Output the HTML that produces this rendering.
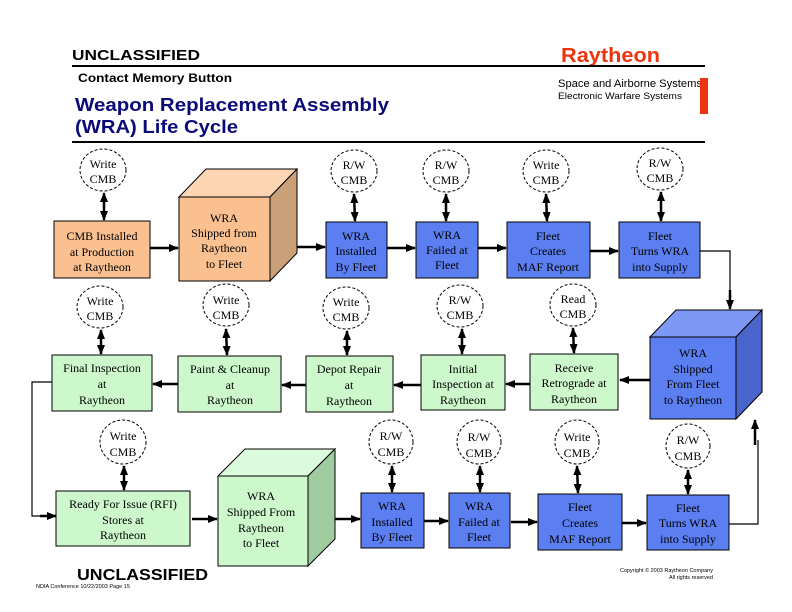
<!DOCTYPE html>
<html><head><meta charset="utf-8"><style>
body{margin:0;background:#fff;}
svg{display:block;}
.t{font-family:"Liberation Serif",serif;font-size:12px;fill:#000;text-anchor:middle;}
.c{fill:#fff;stroke:#000;stroke-width:1;stroke-dasharray:3,2;}
.a{stroke:#000;stroke-width:2.5;fill:none;}
.l{stroke:#000;stroke-width:1.2;fill:none;}
.bx{stroke:#000;stroke-width:1;}
</style></head><body>
<svg width="792" height="612" viewBox="0 0 792 612" xmlns="http://www.w3.org/2000/svg">
<defs>
<marker id="ah" markerUnits="userSpaceOnUse" markerWidth="10" markerHeight="10" refX="9" refY="5" orient="auto-start-reverse"><path d="M0,1 L10,5 L0,9 Z" fill="#000"/></marker>
</defs>
<!-- header -->
<text x="72" y="60" font-family="Liberation Sans,sans-serif" font-weight="bold" font-size="15" textLength="128" lengthAdjust="spacingAndGlyphs">UNCLASSIFIED</text>
<text x="561" y="62" font-family="Liberation Sans,sans-serif" font-weight="bold" font-size="20" fill="#ee3311" textLength="99" lengthAdjust="spacingAndGlyphs">Raytheon</text>
<line x1="72" y1="66" x2="705" y2="66" stroke="#000" stroke-width="2"/>
<text x="78" y="82" font-family="Liberation Sans,sans-serif" font-weight="bold" font-size="12" textLength="154" lengthAdjust="spacingAndGlyphs">Contact  Memory Button</text>
<text x="558" y="87" font-family="Liberation Sans,sans-serif" font-size="11" textLength="144" lengthAdjust="spacingAndGlyphs">Space and Airborne Systems</text>
<text x="558" y="99" font-family="Liberation Sans,sans-serif" font-size="9" textLength="124" lengthAdjust="spacingAndGlyphs">Electronic Warfare Systems</text>
<rect x="700" y="78" width="8" height="36" fill="#ee3311"/>
<text x="75" y="111" font-family="Liberation Sans,sans-serif" font-weight="bold" font-size="18" fill="#0a0a7a" textLength="314" lengthAdjust="spacingAndGlyphs">Weapon Replacement Assembly</text>
<text x="75" y="133" font-family="Liberation Sans,sans-serif" font-weight="bold" font-size="18" fill="#0a0a7a" textLength="163" lengthAdjust="spacingAndGlyphs">(WRA) Life Cycle</text>
<line x1="72" y1="142" x2="705" y2="142" stroke="#000" stroke-width="2"/>

<!-- ROW 1 -->
<rect class="bx" x="54" y="221" width="96" height="57" fill="#fac090"/>
<text class="t" x="102" y="240">CMB Installed</text><text class="t" x="102" y="256">at Production</text><text class="t" x="102" y="271">at Raytheon</text>
<polygon class="bx" points="179,197 206,169 297,169 270,197" fill="#fcd5b2"/>
<polygon class="bx" points="270,197 297,169 297,253 270,281" fill="#c9a077"/>
<rect class="bx" x="179" y="197" width="91" height="84" fill="#fac090"/>
<text class="t" x="224" y="222">WRA</text><text class="t" x="224" y="237">Shipped from</text><text class="t" x="224" y="252">Raytheon</text><text class="t" x="224" y="268">to Fleet</text>

<rect class="bx" x="326" y="222" width="61" height="56" fill="#5b7ef0"/>
<text class="t" x="356" y="240">WRA</text><text class="t" x="356" y="255">Installed</text><text class="t" x="356" y="271">By Fleet</text>
<rect class="bx" x="416" y="222" width="62" height="56" fill="#5b7ef0"/>
<text class="t" x="447" y="239">WRA</text><text class="t" x="447" y="254">Failed at</text><text class="t" x="447" y="269">Fleet</text>
<rect class="bx" x="507" y="222" width="83" height="56" fill="#5b7ef0"/>
<text class="t" x="548" y="240">Fleet</text><text class="t" x="548" y="255">Creates</text><text class="t" x="548" y="271">MAF Report</text>
<rect class="bx" x="619" y="222" width="81" height="56" fill="#5b7ef0"/>
<text class="t" x="660" y="240">Fleet</text><text class="t" x="660" y="255">Turns WRA</text><text class="t" x="660" y="271">into Supply</text>

<line class="a" x1="150" y1="248" x2="178" y2="248" marker-end="url(#ah)"/>
<line class="a" x1="297" y1="247" x2="325" y2="247" marker-end="url(#ah)"/>
<line class="a" x1="387" y1="248" x2="415" y2="248" marker-end="url(#ah)"/>
<line class="a" x1="478" y1="248" x2="506" y2="248" marker-end="url(#ah)"/>
<line class="a" x1="590" y1="251" x2="618" y2="251" marker-end="url(#ah)"/>
<polyline class="l" points="700,251 730,251 730,300"/>
<line class="a" x1="730" y1="290" x2="730" y2="309" marker-end="url(#ah)"/>

<ellipse class="c" cx="103" cy="170" rx="23" ry="21"/><text class="t" x="103" y="168">Write</text><text class="t" x="103" y="183">CMB</text>
<line class="a" x1="104" y1="193" x2="104" y2="220" marker-start="url(#ah)" marker-end="url(#ah)"/>
<ellipse class="c" cx="354" cy="171" rx="23" ry="21"/><text class="t" x="354" y="169">R/W</text><text class="t" x="354" y="184">CMB</text>
<line class="a" x1="354" y1="194" x2="355" y2="221" marker-start="url(#ah)" marker-end="url(#ah)"/>
<ellipse class="c" cx="446" cy="171" rx="23" ry="21"/><text class="t" x="446" y="169">R/W</text><text class="t" x="446" y="184">CMB</text>
<line class="a" x1="446" y1="194" x2="446" y2="221" marker-start="url(#ah)" marker-end="url(#ah)"/>
<ellipse class="c" cx="546" cy="171" rx="23" ry="21"/><text class="t" x="546" y="169">Write</text><text class="t" x="546" y="184">CMB</text>
<line class="a" x1="546" y1="194" x2="547" y2="221" marker-start="url(#ah)" marker-end="url(#ah)"/>
<ellipse class="c" cx="660" cy="169" rx="23" ry="21"/><text class="t" x="660" y="167">R/W</text><text class="t" x="660" y="182">CMB</text>
<line class="a" x1="661" y1="192" x2="661" y2="221" marker-start="url(#ah)" marker-end="url(#ah)"/>

<!-- ROW 2 -->
<rect class="bx" x="52" y="355" width="100" height="56" fill="#ccf8cc"/>
<text class="t" x="102" y="372">Final Inspection</text><text class="t" x="102" y="388">at</text><text class="t" x="102" y="404">Raytheon</text>
<rect class="bx" x="178" y="356" width="103" height="56" fill="#ccf8cc"/>
<text class="t" x="230" y="373">Paint &amp; Cleanup</text><text class="t" x="230" y="389">at</text><text class="t" x="230" y="404">Raytheon</text>
<rect class="bx" x="306" y="356" width="87" height="56" fill="#ccf8cc"/>
<text class="t" x="349" y="373">Depot Repair</text><text class="t" x="349" y="389">at</text><text class="t" x="349" y="405">Raytheon</text>
<rect class="bx" x="421" y="355" width="84" height="55" fill="#ccf8cc"/>
<text class="t" x="463" y="373">Initial</text><text class="t" x="463" y="388">Inspection at</text><text class="t" x="463" y="404">Raytheon</text>
<rect class="bx" x="530" y="354" width="88" height="56" fill="#ccf8cc"/>
<text class="t" x="574" y="372">Receive</text><text class="t" x="574" y="387">Retrograde at</text><text class="t" x="574" y="403">Raytheon</text>
<polygon class="bx" points="650,337 676,310 762,310 736,337" fill="#7e98f5"/>
<polygon class="bx" points="736,337 762,310 762,392 736,419" fill="#4a66cc"/>
<rect class="bx" x="650" y="337" width="86" height="82" fill="#5b7ef0"/>
<text class="t" x="693" y="357">WRA</text><text class="t" x="693" y="373">Shipped</text><text class="t" x="693" y="388">From Fleet</text><text class="t" x="693" y="404">to Raytheon</text>

<line class="a" x1="650" y1="380" x2="620" y2="380" marker-end="url(#ah)"/>
<line class="a" x1="530" y1="384" x2="506" y2="384" marker-end="url(#ah)"/>
<line class="a" x1="421" y1="385" x2="394" y2="385" marker-end="url(#ah)"/>
<line class="a" x1="306" y1="385" x2="282" y2="385" marker-end="url(#ah)"/>
<line class="a" x1="178" y1="384" x2="153" y2="384" marker-end="url(#ah)"/>
<polyline class="l" points="52,382 32,382 32,516 45,516"/>
<line class="a" x1="40" y1="516" x2="56" y2="516" marker-end="url(#ah)"/>

<ellipse class="c" cx="100" cy="307" rx="23" ry="21"/><text class="t" x="100" y="305">Write</text><text class="t" x="100" y="320">CMB</text>
<line class="a" x1="101" y1="330" x2="101" y2="354" marker-start="url(#ah)" marker-end="url(#ah)"/>
<ellipse class="c" cx="226" cy="305" rx="23" ry="21"/><text class="t" x="226" y="304">Write</text><text class="t" x="226" y="319">CMB</text>
<line class="a" x1="226" y1="329" x2="227" y2="355" marker-start="url(#ah)" marker-end="url(#ah)"/>
<ellipse class="c" cx="346" cy="308" rx="23" ry="21"/><text class="t" x="346" y="306">Write</text><text class="t" x="346" y="321">CMB</text>
<line class="a" x1="347" y1="331" x2="347" y2="355" marker-start="url(#ah)" marker-end="url(#ah)"/>
<ellipse class="c" cx="460" cy="306" rx="23" ry="21"/><text class="t" x="460" y="304">R/W</text><text class="t" x="460" y="319">CMB</text>
<line class="a" x1="462" y1="329" x2="462" y2="354" marker-start="url(#ah)" marker-end="url(#ah)"/>
<ellipse class="c" cx="573" cy="305" rx="23" ry="21"/><text class="t" x="573" y="303">Read</text><text class="t" x="573" y="318">CMB</text>
<line class="a" x1="573" y1="328" x2="574" y2="353" marker-start="url(#ah)" marker-end="url(#ah)"/>

<!-- ROW 3 -->
<rect class="bx" x="56" y="491" width="134" height="55" fill="#ccf8cc"/>
<text class="t" x="123" y="508">Ready For Issue (RFI)</text><text class="t" x="123" y="524">Stores at</text><text class="t" x="123" y="539">Raytheon</text>
<polygon class="bx" points="218,476 245,449 335,449 308,476" fill="#dcfadc"/>
<polygon class="bx" points="308,476 335,449 335,539 308,566" fill="#9fcc9f"/>
<rect class="bx" x="218" y="476" width="90" height="90" fill="#ccf8cc"/>
<text class="t" x="261" y="500">WRA</text><text class="t" x="261" y="516">Shipped From</text><text class="t" x="261" y="532">Raytheon</text><text class="t" x="261" y="547">to Fleet</text>
<rect class="bx" x="361" y="493" width="63" height="55" fill="#5b7ef0"/>
<text class="t" x="392" y="510">WRA</text><text class="t" x="392" y="526">Installed</text><text class="t" x="392" y="541">By Fleet</text>
<rect class="bx" x="449" y="493" width="61" height="55" fill="#5b7ef0"/>
<text class="t" x="479" y="510">WRA</text><text class="t" x="479" y="526">Failed at</text><text class="t" x="479" y="541">Fleet</text>
<rect class="bx" x="538" y="494" width="84" height="56" fill="#5b7ef0"/>
<text class="t" x="580" y="511">Fleet</text><text class="t" x="580" y="527">Creates</text><text class="t" x="580" y="543">MAF Report</text>
<rect class="bx" x="647" y="495" width="82" height="55" fill="#5b7ef0"/>
<text class="t" x="688" y="512">Fleet</text><text class="t" x="688" y="527">Turns WRA</text><text class="t" x="688" y="543">into Supply</text>

<line class="a" x1="192" y1="519" x2="217" y2="519" marker-end="url(#ah)"/>
<line class="a" x1="335" y1="519" x2="360" y2="519" marker-end="url(#ah)"/>
<line class="a" x1="424" y1="521" x2="448" y2="521" marker-end="url(#ah)"/>
<line class="a" x1="511" y1="522" x2="537" y2="522" marker-end="url(#ah)"/>
<line class="a" x1="622" y1="523" x2="646" y2="523" marker-end="url(#ah)"/>
<polyline class="l" points="729,524 758,524 758,440"/>
<line class="a" x1="755" y1="445" x2="755" y2="420" marker-end="url(#ah)"/>

<ellipse class="c" cx="123" cy="442" rx="23" ry="22"/><text class="t" x="123" y="440">Write</text><text class="t" x="123" y="456">CMB</text>
<line class="a" x1="124" y1="466" x2="124" y2="490" marker-start="url(#ah)" marker-end="url(#ah)"/>
<ellipse class="c" cx="391" cy="442" rx="22" ry="22"/><text class="t" x="391" y="440">R/W</text><text class="t" x="391" y="456">CMB</text>
<line class="a" x1="392" y1="466" x2="392" y2="492" marker-start="url(#ah)" marker-end="url(#ah)"/>
<ellipse class="c" cx="479" cy="442" rx="22" ry="22"/><text class="t" x="479" y="441">R/W</text><text class="t" x="479" y="457">CMB</text>
<line class="a" x1="480" y1="466" x2="480" y2="492" marker-start="url(#ah)" marker-end="url(#ah)"/>
<ellipse class="c" cx="577" cy="442" rx="22" ry="22"/><text class="t" x="577" y="441">Write</text><text class="t" x="577" y="457">CMB</text>
<line class="a" x1="577" y1="466" x2="578" y2="493" marker-start="url(#ah)" marker-end="url(#ah)"/>
<ellipse class="c" cx="688" cy="446" rx="22" ry="22"/><text class="t" x="688" y="444">R/W</text><text class="t" x="688" y="460">CMB</text>
<line class="a" x1="688" y1="470" x2="688" y2="494" marker-start="url(#ah)" marker-end="url(#ah)"/>

<!-- footer -->
<text x="77" y="580" font-family="Liberation Sans,sans-serif" font-weight="bold" font-size="16" textLength="131" lengthAdjust="spacingAndGlyphs">UNCLASSIFIED</text>
<text x="36" y="588" font-family="Liberation Sans,sans-serif" font-size="5.5">NDIA Conference 10/22/2003 Page 15</text>
<text x="713" y="572" text-anchor="end" font-family="Liberation Sans,sans-serif" font-size="5.5">Copyright © 2003 Raytheon Company</text>
<text x="713" y="579" text-anchor="end" font-family="Liberation Sans,sans-serif" font-size="5.5">All rights reserved</text>
</svg>
</body></html>
